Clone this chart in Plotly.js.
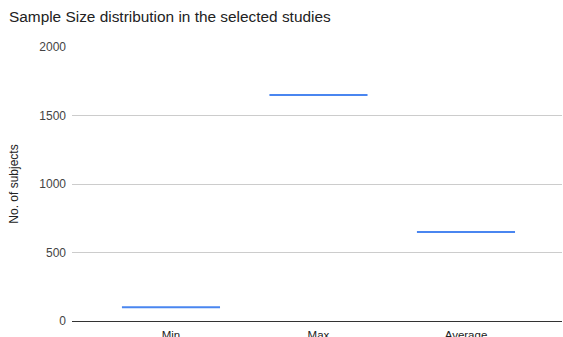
<!DOCTYPE html>
<html>
<head>
<meta charset="utf-8">
<script src="https://cdn.plot.ly/plotly-3.0.1.min.js"></script>
<style>
  html, body { margin: 0; padding: 0; background: #fff; }
  #chart { width: 563px; height: 337px; }
</style>
</head>
<body>
<div id="chart"></div>
<script>
// Sample size summary across the selected studies
const categories = ["Min", "Max", "Average"];
const subjects = [100, 1650, 650];
const yTicks = [0, 500, 1000, 1500, 2000];

const seriesColor = "#4a86f0";

// Each summary value is drawn as a flat box (all quartiles equal),
// which renders as a short horizontal bar across the category slot.
const trace = {
  type: "box",
  x: categories,
  q1: subjects,
  median: subjects,
  q3: subjects,
  lowerfence: subjects,
  upperfence: subjects,
  width: 0.665,
  line: { color: seriesColor, width: 2 },
  fillcolor: "rgba(0,0,0,0)",
  hoverinfo: "skip",
  showlegend: false
};

const layout = {
  width: 563,
  height: 337,
  margin: { l: 72, r: 1, t: 47, b: 16 },
  paper_bgcolor: "#fff",
  plot_bgcolor: "#fff",
  font: { family: "Liberation Sans, Arial, sans-serif", size: 12, color: "#222" },
  title: {
    text: "Sample Size distribution in the selected studies",
    x: 0, xref: "container", xanchor: "left",
    y: 1, yref: "container", yanchor: "top",
    pad: { t: 11, l: 9 },
    font: { size: 15.4, color: "#222" }
  },
  xaxis: {
    type: "category",
    range: [-0.671, 2.651],
    showgrid: false,
    zeroline: false,
    showline: false,
    ticks: "",
    ticklabelstandoff: 5,
    tickfont: { size: 11.5, color: "#222" },
    fixedrange: true
  },
  yaxis: {
    range: [0, 2000],
    tickvals: yTicks,
    ticktext: yTicks.map(String),
    showgrid: true,
    gridcolor: "#cccccc",
    gridwidth: 1,
    zeroline: true,
    zerolinecolor: "#333333",
    zerolinewidth: 1,
    showline: false,
    ticks: "",
    ticklabelstandoff: 5,
    tickfont: { size: 12, color: "#444" },
    title: {
      text: "No. of subjects",
      standoff: 18,
      font: { size: 12, color: "#222" }
    },
    fixedrange: true
  }
};

Plotly.newPlot("chart", [trace], layout, { staticPlot: true, displayModeBar: false });
</script>
</body>
</html>
